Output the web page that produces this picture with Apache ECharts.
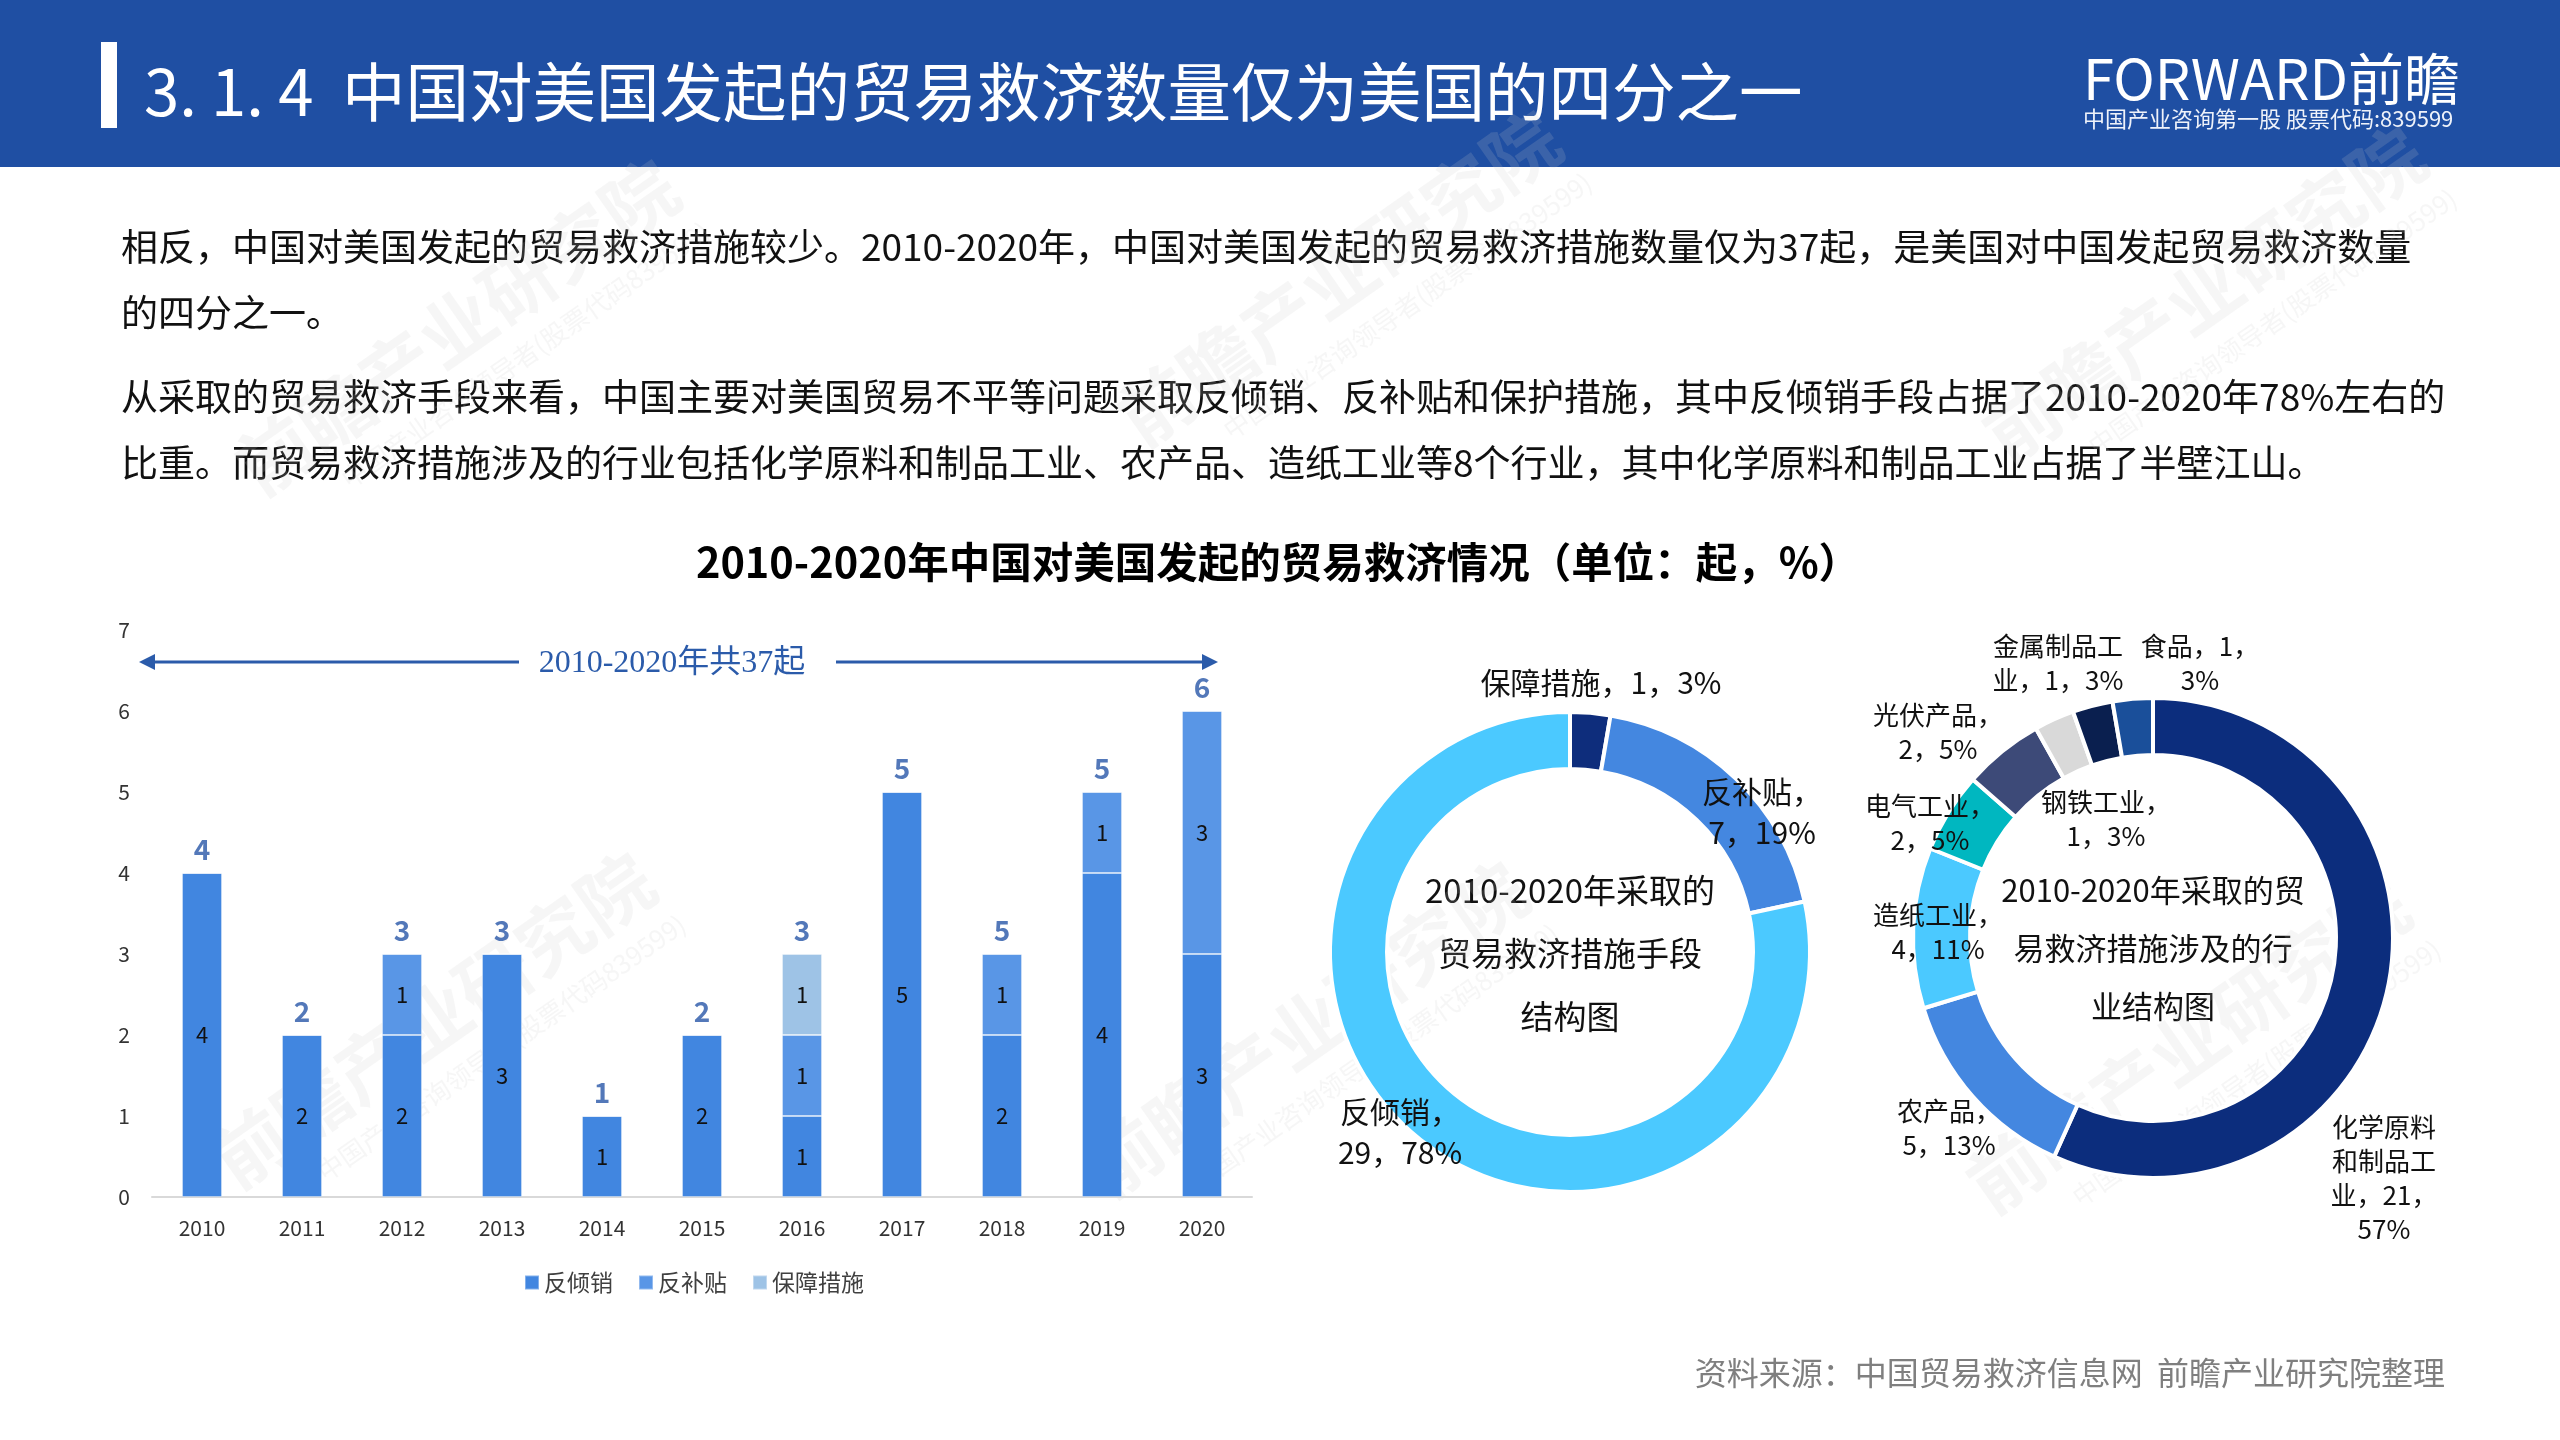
<!DOCTYPE html>
<html>
<head>
<meta charset="utf-8">
<script src="https://cdn.jsdelivr.net/npm/echarts@6/dist/echarts.min.js"></script>
<style>
html,body{margin:0;padding:0;background:#fff;}
#c{width:2560px;height:1440px;}
</style>
</head>
<body>
<div id="c"></div>
<script>
// ---------------- data ----------------
const years = ['2010','2011','2012','2013','2014','2015','2016','2017','2018','2019','2020'];
const antiDumping = [4,2,2,3,1,2,1,5,2,4,3];     // 反倾销
const antiSubsidy = [0,0,1,0,0,0,1,0,1,1,3];     // 反补贴
const safeguard   = [0,0,0,0,0,0,1,0,0,0,0];     // 保障措施
const totalLabels = [4,2,3,3,1,2,3,5,5,5,6];     // labels printed above bars (as in source)
const barSeriesNames = ['反倾销','反补贴','保障措施'];
const yMax = 7;
const yStep = 1;

const measureNames  = ['保障措施','反补贴','反倾销'];
const measureValues = [1,7,29];

const industryNames  = ['化学原料和制品工业','农产品','造纸工业','电气工业','光伏产品','钢铁工业','金属制品工业','食品'];
const industryValues = [21,5,4,2,2,1,1,1];

// ---------------- texts ----------------
const headerTitle = '3. 1. 4  中国对美国发起的贸易救济数量仅为美国的四分之一';
const paragraphLines = [
  '相反，中国对美国发起的贸易救济措施较少。2010-2020年，中国对美国发起的贸易救济措施数量仅为37起，是美国对中国发起贸易救济数量',
  '的四分之一。',
  '从采取的贸易救济手段来看，中国主要对美国贸易不平等问题采取反倾销、反补贴和保护措施，其中反倾销手段占据了2010-2020年78%左右的',
  '比重。而贸易救济措施涉及的行业包括化学原料和制品工业、农产品、造纸工业等8个行业，其中化学原料和制品工业占据了半壁江山。'
];
const chartTitle = '2010-2020年中国对美国发起的贸易救济情况（单位：起，%）';
const arrowText = '2010-2020年共37起';
const donut1Center = '2010-2020年采取的\n贸易救济措施手段\n结构图';
const donut2Center = '2010-2020年采取的贸\n易救济措施涉及的行\n业结构图';
const sourceText = '资料来源：中国贸易救济信息网  前瞻产业研究院整理';

// ---------------- styles ----------------
const FONT = '"Noto Sans CJK SC","Noto Sans",sans-serif';
const SERIF = '"Liberation Serif","DejaVu Serif",serif';
const barColors = ['#4186E0','#5996E6','#9EC3E6'];
const measureColors = ['#0E2D7C','#4487E0','#4BC9FF'];
const industryColors = ['#0C2D7D','#4487E0','#4BC9FF','#00B7C0','#3D4A78','#D9D9D9','#0A1F4F','#1A4F9A'];
const measureLabelPos = [[1601,683],[1762,812],[1400,1132]];
const measureWrap = [20,4,4];
const industryLabelPos = [[2384,1178],[1949,1128],[1938,932],[1930,823],[1938,732],[2106,819],[2058,663],[2200,663]];
const industryWrap = [4,4,5,5,5,5,5,5];

function tokens(s){ return s.match(/[0-9.]+%?|[\s\S]/gu) || []; }
function tokW(t){ let w = 0; for (const ch of t) w += ch.charCodeAt(0) < 128 ? 0.5 : 1; return w; }
function wrap(s, width){
  const lines = []; let cur = '', cw = 0;
  for (const t of tokens(s)) {
    const w = tokW(t);
    if (cw + w > width + 1e-6 && cur) { lines.push(cur); cur = ''; cw = 0; }
    cur += t; cw += w;
  }
  if (cur) lines.push(cur);
  return lines.join('\n');
}

const stacks = [antiDumping, antiSubsidy, safeguard];
const stackTotals = years.map((_, i) => stacks.reduce((s, a) => s + a[i], 0));

const chart = echarts.init(document.getElementById('c'), null, {renderer:'canvas', width:2560, height:1440});

const barSeries = stacks.map((arr, k) => ({
  name: barSeriesNames[k],
  type: 'bar',
  stack: 'total',
  barWidth: 40,
  data: arr,
  itemStyle: {color: barColors[k], borderColor: 'rgba(255,255,255,0.35)', borderWidth: 1},
  label: {
    show: true, position: 'inside', fontFamily: FONT, fontSize: 22, color: '#111',
    formatter: p => p.value > 0 ? String(p.value) : ''
  },
  emphasis: {disabled: true}
}));

function pieSeries(names, values, colors, center, pos, wraps, fontSize, lineHeight){
  return {
    type: 'pie',
    center: center,
    radius: [183, 240],
    startAngle: 90,
    clockwise: true,
    percentPrecision: 0,
    avoidLabelOverlap: false,
    emphasis: {disabled: true},
    itemStyle: {borderColor: '#fff', borderWidth: 4},
    labelLine: {show: false},
    label: {
      show: true, position: 'outside', fontFamily: FONT, fontSize: fontSize, lineHeight: lineHeight,
      color: '#111', align: 'center',
      formatter: p => wrap(p.name + '，' + p.value + '，' + p.percent + '%', wraps[p.dataIndex])
    },
    labelLayout: p => ({x: pos[p.dataIndex][0], y: pos[p.dataIndex][1], align: 'center', verticalAlign: 'middle', hideOverlap: false}),
    data: names.map((n, i) => ({name: n, value: values[i], itemStyle: {color: colors[i]}}))
  };
}

// watermarks
const wmPos = [[457,327],[1339,278],[2204,294],[433,1020],[1306,1029],[2188,1045]];
const watermarks = wmPos.map(p => ({
  type: 'group', x: p[0], y: p[1], rotation: 0.61, silent: true, z: 100,
  children: [
    {type:'text', style:{text:'前瞻产业研究院', x:0, y:0, align:'center', verticalAlign:'middle', font:'bold 74px ' + FONT, fill:'rgba(200,200,200,0.17)'}},
    {type:'text', style:{text:'中国产业咨询领导者(股票代码839599)', x:40, y:62, align:'center', verticalAlign:'middle', font:'26px ' + FONT, fill:'rgba(200,200,200,0.17)'}}
  ]
}));

const graphics = [
  {type:'rect', shape:{x:0, y:0, width:2560, height:167}, style:{fill:'#1F4FA3'}, silent:true},
  {type:'rect', shape:{x:101, y:42, width:16, height:86}, style:{fill:'#fff'}, silent:true},
  {type:'text', style:{text: headerTitle, x:144, y:92, verticalAlign:'middle', font:'63.5px ' + FONT, fill:'#fff'}},
  {type:'text', style:{text:'FORWARD前瞻', x:2083, y:79, verticalAlign:'middle', font:'56px ' + FONT, fill:'#fff'}},
  {type:'text', style:{text:'中国产业咨询第一股 股票代码:839599', x:2083, y:119, verticalAlign:'middle', font:'22px ' + FONT, fill:'#EEF2FA'}},
  {type:'text', style:{text: paragraphLines[0], x:121, y:247, verticalAlign:'middle', font:'37px ' + FONT, fill:'#111'}},
  {type:'text', style:{text: paragraphLines[1], x:121, y:313, verticalAlign:'middle', font:'37px ' + FONT, fill:'#111'}},
  {type:'text', style:{text: paragraphLines[2], x:121, y:397, verticalAlign:'middle', font:'37px ' + FONT, fill:'#111'}},
  {type:'text', style:{text: paragraphLines[3], x:121, y:463, verticalAlign:'middle', font:'37px ' + FONT, fill:'#111'}},
  {type:'text', style:{text: chartTitle, x:1278, y:562, align:'center', verticalAlign:'middle', font:'bold 41.5px ' + FONT, fill:'#000'}},
  // arrow annotation
  {type:'line', shape:{x1:150, y1:662, x2:519, y2:662}, style:{stroke:'#2B5BAA', lineWidth:3}, silent:true},
  {type:'polygon', shape:{points:[[139,662],[155,654],[155,670]]}, style:{fill:'#2B5BAA'}, silent:true},
  {type:'line', shape:{x1:836, y1:662, x2:1205, y2:662}, style:{stroke:'#2B5BAA', lineWidth:3}, silent:true},
  {type:'polygon', shape:{points:[[1218,662],[1202,654],[1202,670]]}, style:{fill:'#2B5BAA'}, silent:true},
  {type:'text', style:{text: arrowText, x:672, y:664, align:'center', verticalAlign:'middle', font:'32px ' + SERIF + ',' + FONT, fill:'#2B5BAA'}},
  // donut centers
  {type:'text', style:{text: donut1Center, x:1570, y:953, align:'center', verticalAlign:'middle', font:'33px ' + FONT, lineHeight:63, fill:'#111'}},
  {type:'text', style:{text: donut2Center, x:2153, y:948, align:'center', verticalAlign:'middle', font:'31px ' + FONT, lineHeight:58, fill:'#111'}},
  {type:'text', style:{text: sourceText, x:2445, y:1373, align:'right', verticalAlign:'middle', font:'32px ' + FONT, fill:'#7F7F7F'}}
].concat(watermarks);

chart.setOption({
  animation: false,
  backgroundColor: '#fff',
  textStyle: {fontFamily: FONT},
  graphic: graphics,
  legend: {
    data: barSeriesNames,
    left: 524, top: 1271, padding: 0,
    icon: 'rect', itemWidth: 14, itemHeight: 14, itemGap: 25,
    textStyle: {fontFamily: FONT, fontSize: 23, color: '#404040'},
    selectedMode: false
  },
  grid: {left: 152, top: 630, width: 1100, height: 567},
  xAxis: {
    type: 'category', data: years,
    axisLine: {lineStyle: {color: '#D9D9D9', width: 2}},
    axisTick: {show: false},
    axisLabel: {fontFamily: FONT, fontSize: 21, color: '#333', margin: 21}
  },
  yAxis: {
    type: 'value', min: 0, max: yMax, interval: yStep,
    axisLine: {show: false}, axisTick: {show: false}, splitLine: {show: false},
    axisLabel: {fontFamily: FONT, fontSize: 21, color: '#333', margin: 22}
  },
  series: barSeries.concat([
    {
      name: '合计', type: 'scatter', data: stackTotals, symbolSize: 1,
      itemStyle: {color: 'rgba(0,0,0,0)'}, silent: true, z: 5,
      label: {
        show: true, position: 'top', distance: 9, fontFamily: FONT, fontSize: 28, fontWeight: 'bold', color: '#2856A8',
        formatter: p => String(totalLabels[p.dataIndex])
      }
    },
    pieSeries(measureNames, measureValues, measureColors, [1570, 952], measureLabelPos, measureWrap, 30, 41),
    pieSeries(industryNames, industryValues, industryColors, [2153, 938], industryLabelPos, industryWrap, 26, 34)
  ])
});
</script>
</body>
</html>
